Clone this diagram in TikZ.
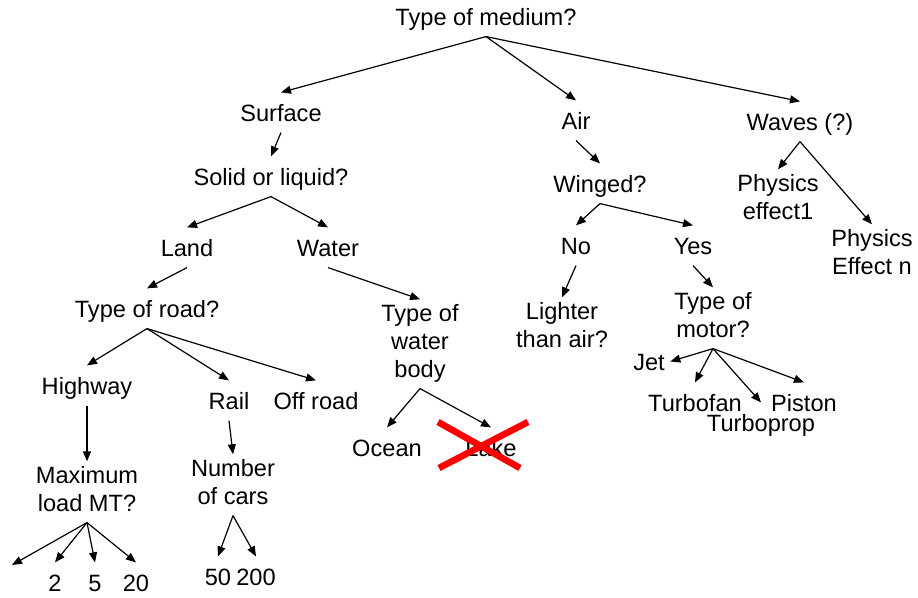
\documentclass[tikz,border=0pt]{standalone}
\usepackage{fontspec}
\setmainfont{Liberation Sans}
\usetikzlibrary{arrows.meta}

\begin{document}
\begin{tikzpicture}[
		x=0.5pt, y=-0.5pt,
		>={Triangle[length=5pt,width=4pt]},
		line width=0.6pt,
		every node/.style = {
			font=\fontsize{11.8pt}{14pt}\selectfont,
			anchor=base,
			inner sep=2.5pt,
			text height=12pt, text depth=2.5pt
		},
		multi/.style = {
			align=center, text height=, text depth=,
			execute at begin node={\rule{0pt}{12pt}},
			execute at end node={\rule[-2.5pt]{0pt}{2.5pt}}
		},
		cross/.style = {draw=red, line width=3.3pt}
		]
		\useasboundingbox (0,0) rectangle (918,598);
		%\draw[help lines] (0,0) grid[step=50] (918,598);
		\node (med) at (486, 26) {Type of medium?};
		\node (surf) at (281, 122) {Surface};
		\node (air) at (576, 130) {Air};
		\node (wav) at (800, 131) {Waves (?)};

		% surface branch (multi-line nodes sit on their last line)
		\node (sol) at (271, 186) {Solid or liquid?};
		\node (land) at (187, 257) {Land};
		\node (wat) at (328, 257) {Water};
		\node (road) at (147, 318) {Type of road?};
		\node[multi] (body) at (420, 378) {Type of\\water\\body};
		\node (hwy) at (87, 395) {Highway};
		\node (rail) at (229, 410) {Rail};
		\node (off) at (316, 410) {Off road};
		\node (ocean) at (387, 457) {Ocean};
		\node (lake) at (491, 457) {Lake};
		\node[multi] (load) at (87, 512) {Maximum\\load MT?};
		\node[multi] (cars) at (233, 505) {Number\\of cars};
		\coordinate (l0) at (12, 565);
		\node (l2) at (55, 592) {2};
		\node (l5) at (95, 592) {5};
		\node (l20) at (136, 592) {20};
		\node (c50) at (218, 586) {50};
		\node (c200) at (256, 586) {200};

		% air branch
		\node (wing) at (600, 193) {Winged?};
		\node (no) at (576, 255) {No};
		\node (yes) at (693, 255) {Yes};
		\node[multi] (light) at (562, 348) {Lighter\\than air?};
		\node[multi] (motor) at (713, 338) {Type of\\motor?};
		\node (jet) at (649, 371) {Jet};
		\node (fan) at (695, 412) {Turbofan};
		\node (piston) at (804, 412) {Piston};
		\node (prop) at (761, 432) {Turboprop};

		% waves branch
		\node[multi] (eff1) at (778, 220) {Physics\\effect1};
		\node[multi] (effn) at (872, 275) {Physics\\Effect n};

		\draw[->] (med.south) -- (surf.north);
		\draw[->] (med.south) -- (air.north);
		\draw[->] (med.south) -- (wav.north);

		\draw[->] (surf.south) -- (sol.north);
		\draw[->] (sol.south) -- (land.north);
		\draw[->] (sol.south) -- (wat.north);
		\draw[->] (land.south) -- (road.north);
		\draw[->] (wat.south) -- (body.north);
		\draw[->] (road.south) -- (hwy.north);
		\draw[->] (road.south) -- (rail.north);
		\draw[->] (road.south) -- (off.north);
		\draw[->] (hwy.south) -- (load.north);
		\draw[->] (rail.south) -- (cars.north);
		\draw[->] (body.south) -- (ocean.north);
		\draw[->] (body.south) -- (lake.north);
		\draw[->] (load.south) -- (l0);
		\draw[->] (load.south) -- (l2.north);
		\draw[->] (load.south) -- (l5.north);
		\draw[->] (load.south) -- (l20.north);
		\draw[->] (cars.south) -- (c50.north);
		\draw[->] (cars.south) -- (c200.north);

		\draw[->] (air.south) -- (wing.north);
		\draw[->] (wing.south) -- (no.north);
		\draw[->] (wing.south) -- (yes.north);
		\draw[->] (no.south) -- (light.north);
		\draw[->] (yes.south) -- (motor.north);
		\draw[->] (motor.south) -- (jet.east);
		\draw[->] (motor.south) -- (fan.north);
		\draw[->] (motor.south) -- (prop.north);
		\draw[->] (motor.south) -- (piston.north);

		\draw[->] (wav.south) -- (eff1.north);
		\draw[->] (wav.south) -- (effn.north);

		% lake is struck out
		\draw[cross] (438, 422) -- (520, 468);
		\draw[cross] (439, 468) -- (528, 422);
	\end{tikzpicture}
\end{document}
